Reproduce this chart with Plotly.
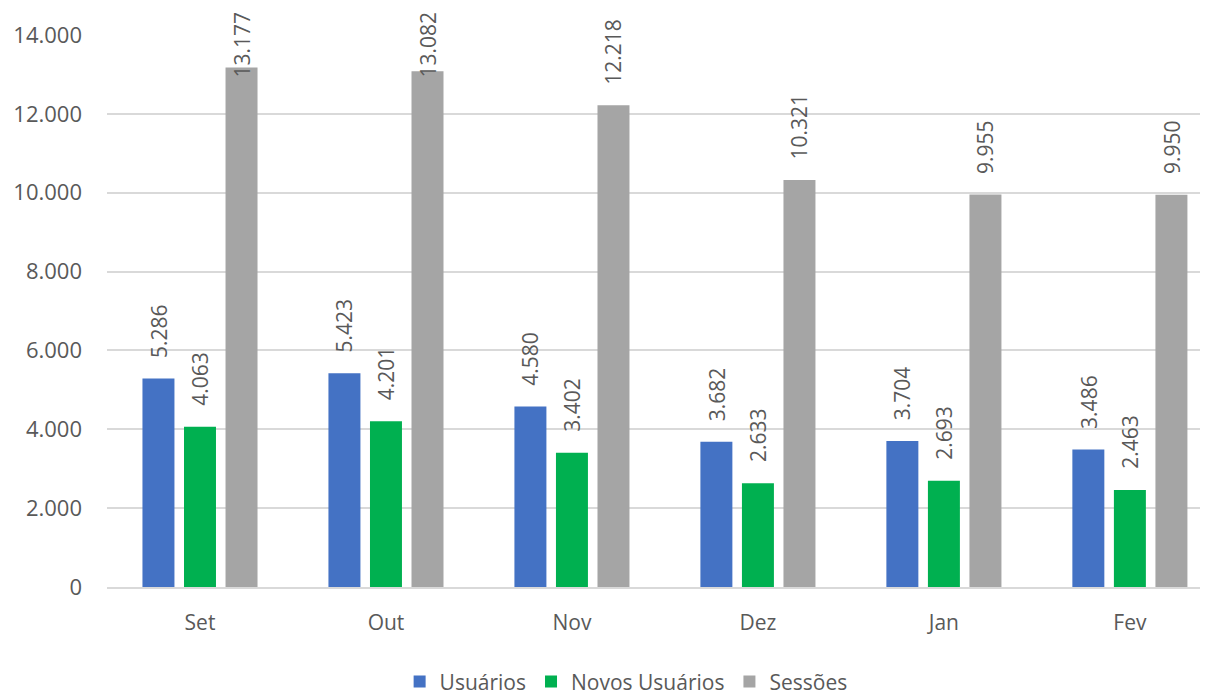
import plotly.graph_objects as go

months = ["Set", "Out", "Nov", "Dez", "Jan", "Fev"]
usuarios = [5286, 5423, 4580, 3682, 3704, 3486]
novos_usuarios = [4063, 4201, 3402, 2633, 2693, 2463]
sessoes = [13177, 13082, 12218, 10321, 9955, 9950]

series = [
    ("Usuários", usuarios, "#4472C4"),
    ("Novos Usuários", novos_usuarios, "#00B050"),
    ("Sessões", sessoes, "#A5A5A5"),
]

FONT = "Open Sans"
TXT = "#595959"
# page has an 8px body margin, so the figure is 8px smaller and shifted
W, H = 1200, 688
ML, MR, MT, MB = 99, 0, 27, 109
YMAX = 14000
BARGAP = 0.33
BARGROUPGAP = 0.23
plot_h = H - MT - MB
px_per_unit = plot_h / YMAX


def fmt(v):
    return f"{v:,}".replace(",", ".")


fig = go.Figure()
for name, vals, col in series:
    fig.add_trace(go.Bar(
        name=name, x=months, y=vals, marker_color=col,
        marker_line_width=0, hoverinfo="skip",
    ))

annotations = []
slot = (1 - BARGAP) / len(series)
for si, (name, vals, col) in enumerate(series):
    off = (si - (len(series) - 1) / 2) * slot
    for ci, v in enumerate(vals):
        txt = fmt(v)
        length = 11.6 * sum(c.isdigit() for c in txt) + 5.5
        gap = 19
        top_px = MT + (YMAX - v) * px_per_unit - gap - length
        if top_px < 4:
            annotations.append(dict(
                x=ci + off, y=YMAX, xref="x", yref="y", text=txt,
                textangle=-90, showarrow=False, yanchor="top", xanchor="center",
                yshift=25, font=dict(family=FONT, size=21, color=TXT)))
        else:
            annotations.append(dict(
                x=ci + off, y=v, xref="x", yref="y", text=txt,
                textangle=-90, showarrow=False, yanchor="bottom", xanchor="center",
                yshift=gap, font=dict(family=FONT, size=21, color=TXT)))

fig.update_layout(
    width=W, height=H,
    margin=dict(l=ML, r=MR, t=MT, b=MB, autoexpand=False),
    paper_bgcolor="white", plot_bgcolor="white",
    barmode="group", bargap=BARGAP, bargroupgap=BARGROUPGAP,
    separators=",.",
    font=dict(family=FONT, size=21, color=TXT),
    showlegend=True,
    legend=dict(orientation="h", x=0.4715, xanchor="center", y=-0.172, yanchor="middle",
                font=dict(family=FONT, size=21, color=TXT), itemsizing="constant",
                traceorder="normal"),
    annotations=annotations,
    xaxis=dict(range=[-0.5, 5.42], showgrid=False, showline=True, linecolor="#D9D9D9",
               linewidth=2, ticks="", tickfont=dict(family=FONT, size=21, color=TXT),
               ticklabelstandoff=16, fixedrange=True),
    yaxis=dict(range=[0, YMAX], dtick=2000, tickformat=",d", showgrid=True,
               gridcolor="#D9D9D9", gridwidth=2, zeroline=False, showline=False,
               ticks="", tickfont=dict(family=FONT, size=22, color=TXT),
               ticklabelstandoff=24, fixedrange=True),
)

fig.write_html("out.html")
